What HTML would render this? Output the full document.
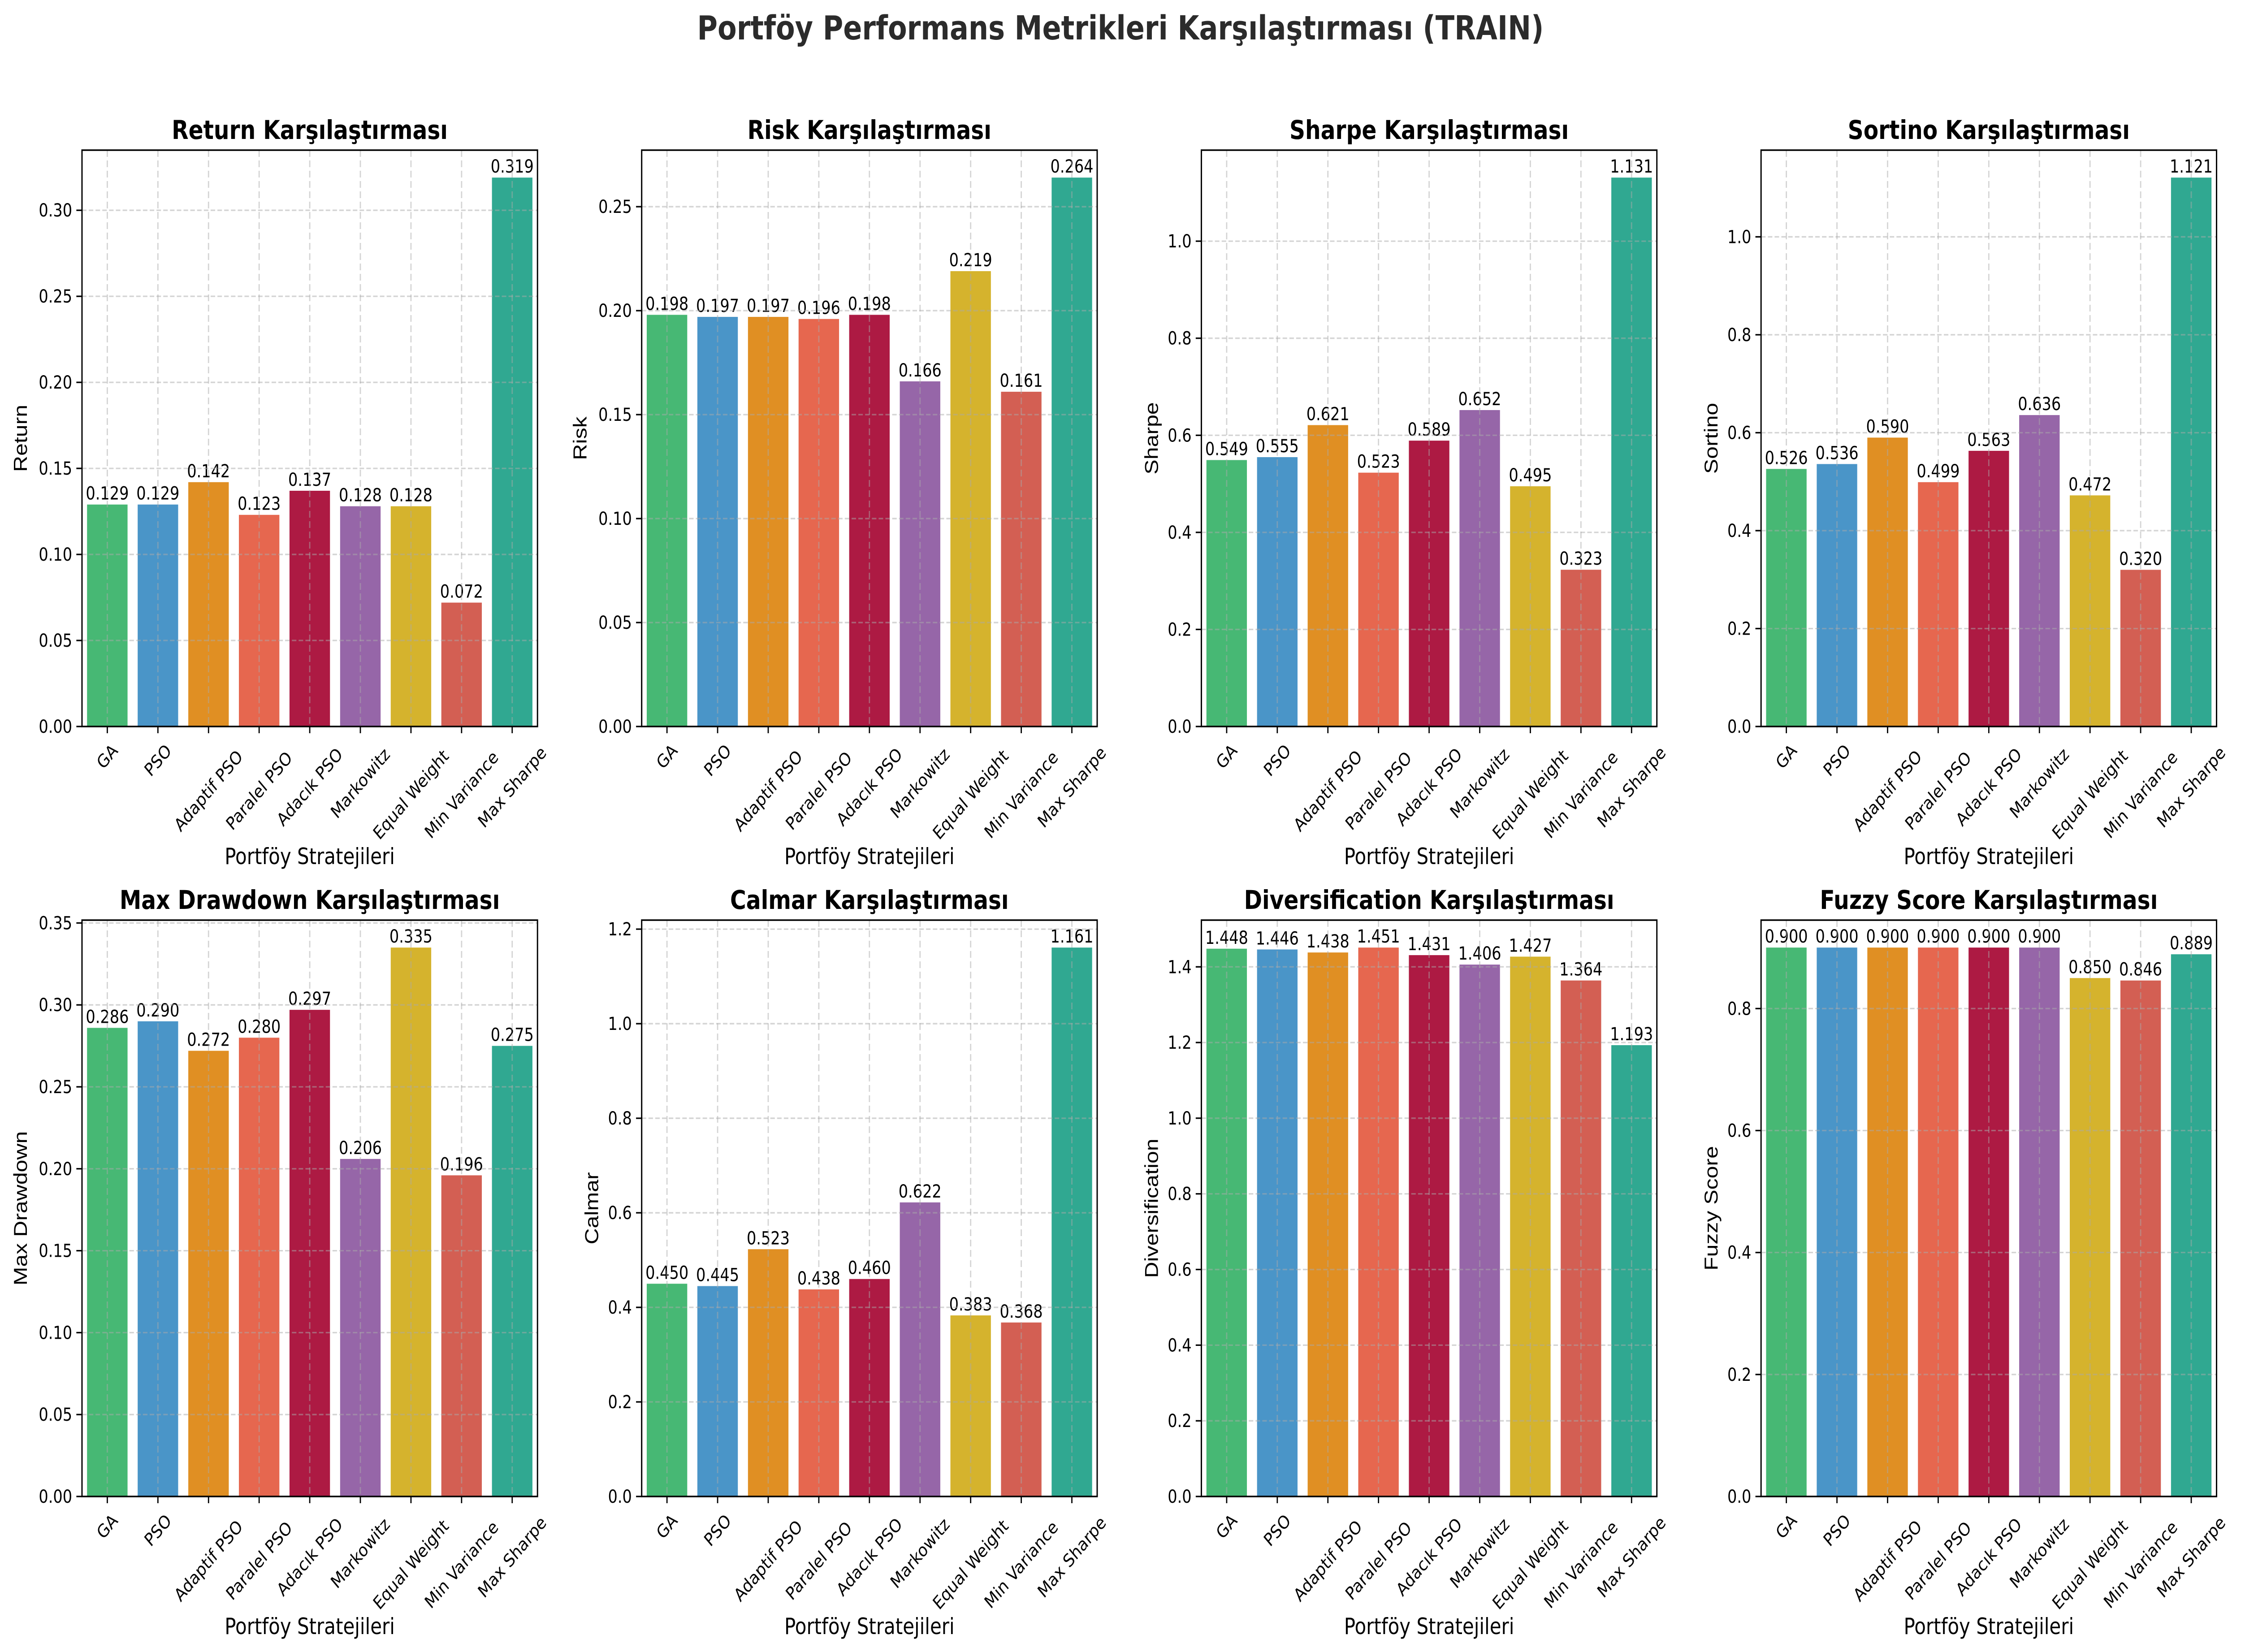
<!DOCTYPE html>
<html><head><meta charset="utf-8">
<style>
html,body{margin:0;padding:0;background:#fff;overflow:hidden;width:100%;height:100%;}
svg{display:block;width:100vw;height:100vh;}
text{font-family:"DejaVu Sans","Liberation Sans",sans-serif;}
</style></head>
<body>
<svg id="fig" xmlns="http://www.w3.org/2000/svg" viewBox="0 0 5958 3686" preserveAspectRatio="none">
<rect width="5958" height="3686" fill="#fff"/>
<text x="2979" y="88" text-anchor="middle" font-size="74" font-weight="bold" fill="#2b2b2b">Portföy Performans Metrikleri Karşılaştırması (TRAIN)</text>
</svg>
<script>
const categories = ["GA","PSO","Adaptif PSO","Paralel PSO","Adacık PSO","Markowitz","Equal Weight","Min Variance","Max Sharpe"];
const colors = ["#47b874","#4a95c8","#e08f23","#e6674f","#ad1a43","#9666a8","#d5b32d","#d35f53","#30a891"];
const metricNames = ["Return","Risk","Sharpe","Sortino","Max Drawdown","Calmar","Diversification","Fuzzy Score"];
const returnVals = [0.129,0.129,0.142,0.123,0.137,0.128,0.128,0.072,0.319];
const riskVals = [0.198,0.197,0.197,0.196,0.198,0.166,0.219,0.161,0.264];
const sharpeVals = [0.549,0.555,0.621,0.523,0.589,0.652,0.495,0.323,1.131];
const sortinoVals = [0.526,0.536,0.590,0.499,0.563,0.636,0.472,0.320,1.121];
const drawdownVals = [0.286,0.290,0.272,0.280,0.297,0.206,0.335,0.196,0.275];
const calmarVals = [0.450,0.445,0.523,0.438,0.460,0.622,0.383,0.368,1.161];
const divVals = [1.448,1.446,1.438,1.451,1.431,1.406,1.427,1.364,1.193];
const fuzzyVals = [0.900,0.900,0.900,0.900,0.900,0.900,0.850,0.846,0.889];
const returnTicks = ["0.00","0.05","0.10","0.15","0.20","0.25","0.30"];
const riskTicks = ["0.00","0.05","0.10","0.15","0.20","0.25"];
const sharpeTicks = ["0.0","0.2","0.4","0.6","0.8","1.0"];
const sortinoTicks = ["0.0","0.2","0.4","0.6","0.8","1.0"];
const drawdownTicks = ["0.00","0.05","0.10","0.15","0.20","0.25","0.30","0.35"];
const calmarTicks = ["0.0","0.2","0.4","0.6","0.8","1.0","1.2"];
const divTicks = ["0.0","0.2","0.4","0.6","0.8","1.0","1.2","1.4"];
const fuzzyTicks = ["0.0","0.2","0.4","0.6","0.8"];

const seriesList = [returnVals,riskVals,sharpeVals,sortinoVals,drawdownVals,calmarVals,divVals,fuzzyVals];
const tickList = [returnTicks,riskTicks,sharpeTicks,sortinoTicks,drawdownTicks,calmarTicks,divTicks,fuzzyTicks];

const NS = "http://www.w3.org/2000/svg";
const svg = document.getElementById("fig");
function mk(tag, attrs, parent){
  const e = document.createElementNS(NS, tag);
  for (const k in attrs) e.setAttribute(k, attrs[k]);
  (parent||svg).appendChild(e);
  return e;
}
const AX_W = 1211, AX_H = 1286;
const lefts = [218, 1706, 3194, 4682];
const tops = [335, 2053];

for (let p = 0; p < 8; p++) {
  const vals = seriesList[p], ticks = tickList[p], name = metricNames[p];
  const L = lefts[p % 4], T = tops[Math.floor(p / 4)], B = T + AX_H, R = L + AX_W;
  const ymax = Math.max(...vals) * 1.05;
  const y = v => B - v / ymax * AX_H;
  const x = i => L + (i + 0.5) / 9 * AX_W;
  const bw = 0.8 / 9 * AX_W;
  const g = mk("g", {});
  
  

  const title = mk("text", {x: L + AX_W / 2, y: T - 25, "text-anchor": "middle", "font-size": 58, "font-weight": "bold", fill: "#000"}, g);
  title.textContent = name + " Karşılaştırması";
  
  

  vals.forEach((v, i) => {
    const r = mk("rect", {x: x(i) - bw / 2, y: y(v), width: bw, height: B - y(v), fill: colors[i]}, g);
    
    
    const t = mk("text", {x: x(i), y: y(v) - 11, "text-anchor": "middle", "font-size": 40, fill: "#000"}, g);
    t.textContent = v.toFixed(3);
    
    
  });

  const step = parseFloat(ticks[1]) - parseFloat(ticks[0]);
  ticks.forEach((lab, k) => {
    const v = k * step, yy = y(v);
    const gl = mk("line", {x1: L, x2: R, y1: yy, y2: yy, stroke: "rgba(170,170,170,0.5)", "stroke-width": 3.3, "stroke-dasharray": "12,6"}, g);
    
    
    const tk = mk("line", {x1: L - 15, x2: L, y1: yy, y2: yy, stroke: "#000", "stroke-width": 3.3}, g);
    
    
    const tl = mk("text", {x: L - 26, y: yy + 14, "text-anchor": "end", "font-size": 40, fill: "#000"}, g);
    tl.textContent = lab;
    
    
  });
  categories.forEach((c, i) => {
    const gl = mk("line", {x1: x(i), x2: x(i), y1: T, y2: B, stroke: "rgba(170,170,170,0.5)", "stroke-width": 3.3, "stroke-dasharray": "15,8"}, g);
    
    
    const tk = mk("line", {x1: x(i), x2: x(i), y1: B, y2: B + 15, stroke: "#000", "stroke-width": 3.3}, g);
    
    
    const tl = mk("text", {"text-anchor": "middle", "font-size": 40, fill: "#000", "dominant-baseline": "central"}, g);
    tl.textContent = c;
    
    
    const w = c.length * 24;
    const half = (w + 40) * 0.7071 / 2;
    const cy = B + 36 + half;
    tl.setAttribute("x", x(i));
    tl.setAttribute("y", cy);
    tl.setAttribute("transform", "rotate(-45 " + x(i) + " " + cy + ")");
  });

  const sp = mk("rect", {x: L, y: T, width: AX_W, height: AX_H, fill: "none", stroke: "#000", "stroke-width": 3.5}, g);
  
  

  const xl = mk("text", {x: L + AX_W / 2, y: B + 307, "text-anchor": "middle", "font-size": 50, fill: "#000"}, g);
  xl.textContent = "Portföy Stratejileri";
  
  
  const nch = ticks[0].length;
  const ylx = L - (40 + nch * 31);
  const ylyy = T + AX_H / 2;
  const yl = mk("text", {x: ylx, y: ylyy, "text-anchor": "middle", "dominant-baseline": "central", "font-size": 50, fill: "#000", transform: "rotate(-90 " + ylx + " " + ylyy + ")"}, g);
  yl.style.fontFamily = '"Liberation Sans", sans-serif';
  yl.textContent = name;
  
  
}
</script>
</body></html>
